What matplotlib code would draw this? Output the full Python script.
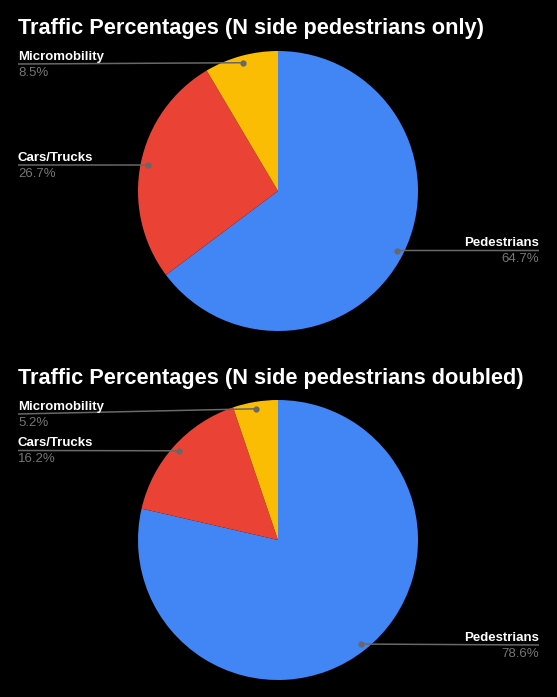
import numpy as np
import matplotlib
matplotlib.use("Agg")
import matplotlib.pyplot as plt

W, H = 557, 697

categories = ["Pedestrians", "Cars/Trucks", "Micromobility"]
values_only = [64.7, 26.7, 8.5]
values_doubled = [78.6, 16.2, 5.2]
titles = ["Traffic Percentages (N side pedestrians only)",
          "Traffic Percentages (N side pedestrians doubled)"]
colors = ["#4285F4", "#EA4335", "#FBBC04"]

plt.rcParams['font.family'] = ['Liberation Sans', 'DejaVu Sans']

fig = plt.figure(figsize=(W / 100, H / 100), dpi=100, facecolor="black")
ax = fig.add_axes([0, 0, 1, 1])
ax.set_facecolor("black")

# layout (pixel coords, y measured from top)
charts = [
    dict(values=values_only, title=titles[0], center=(278, 191), title_y=34,
         labels={"Micromobility": ("left", 64), "Cars/Trucks": ("left", 165),
                 "Pedestrians": ("right", 250.5)}),
    dict(values=values_doubled, title=titles[1], center=(278, 540), title_y=384,
         labels={"Micromobility": ("left", 414), "Cars/Trucks": ("left", 450.5),
                 "Pedestrians": ("right", 645)}),
]
R = 140
LEFT_X, RIGHT_X = 18, 539

for ch in charts:
    cx, cy = ch["center"]
    vals = ch["values"]
    ax.pie(vals, colors=colors, startangle=90, counterclock=False,
           center=(cx, H - cy), radius=R,
           wedgeprops=dict(linewidth=0))
    ax.text(LEFT_X, H - ch["title_y"], ch["title"], color="white",
            fontsize=15.7, fontweight="bold", ha="left", va="baseline")
    total = sum(vals)
    start = 90.0
    for cat, v in zip(categories, vals):
        span = 360.0 * v / total
        mid = np.deg2rad(start - span / 2)
        start -= span
        dx = cx + 0.95 * R * np.cos(mid)
        dy = (H - cy) + 0.95 * R * np.sin(mid)
        side, ly = ch["labels"][cat]
        lx = LEFT_X if side == "left" else RIGHT_X
        ax.plot([lx, dx], [H - ly, dy], color="#686868", lw=1.1, solid_capstyle="butt")
        ax.plot([dx], [dy], "o", color="#686868", ms=3.5)
        ha = side
        ax.text(lx, H - ly + 4, cat, color="white", fontsize=9.5,
                fontweight="bold", ha=ha, va="baseline")
        ax.text(lx, H - ly - 12, f"{v}%", color="#757575", fontsize=9.5,
                ha=ha, va="baseline")

ax.set_xlim(0, W)
ax.set_ylim(0, H)
ax.set_aspect("auto")
ax.axis("off")

fig.savefig("out.png", dpi=100, facecolor="black")
